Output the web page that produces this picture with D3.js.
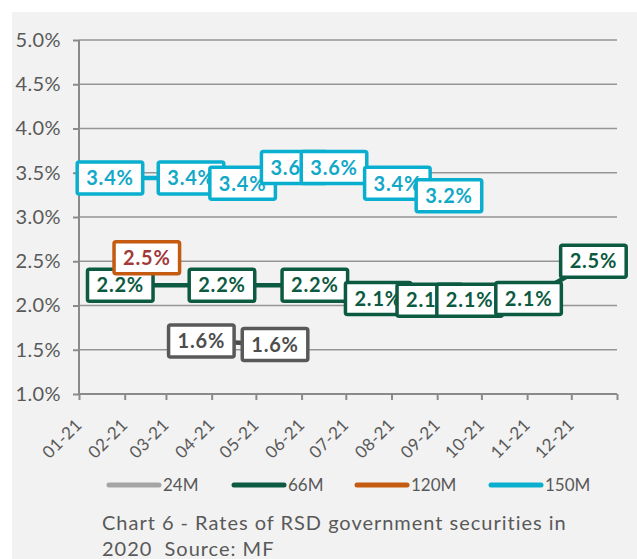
<!DOCTYPE html>
<html>
<head>
<meta charset="utf-8">
<script src="https://cdn.jsdelivr.net/npm/d3@7"></script>
<style>
  html, body { margin: 0; padding: 0; background: #ffffff; }
  svg { display: block; }
</style>
</head>
<body>
<svg id="chart" width="637" height="559"></svg>
<script>
// ---------- data ----------
const seriesNames = ["24M", "66M", "120M", "150M"];
const dates24 = ["2021-03-25", "2021-05-14"];
const values24 = [1.60, 1.56];
const dates66 = ["2021-01-29", "2021-04-08", "2021-06-10", "2021-07-23", "2021-08-27", "2021-09-23", "2021-11-02", "2021-12-16"];
const values66 = [2.23, 2.23, 2.23, 2.08, 2.06, 2.06, 2.08, 2.50];
const dates120 = ["2021-02-16"];
const values120 = [2.54];
const dates150 = ["2021-01-22", "2021-03-18", "2021-04-22", "2021-05-27", "2021-06-23", "2021-08-05", "2021-09-09"];
const values150 = [3.44, 3.44, 3.38, 3.56, 3.56, 3.38, 3.24];
const yTicks = [1.0, 1.5, 2.0, 2.5, 3.0, 3.5, 4.0, 4.5, 5.0];
const xStart = "2021-01-01";
const xEnd = "2022-01-01";
const captionLines = ["Chart 6 - Rates of RSD government securities in", "2020  Source: MF"];

// ---------- styles ----------
const styles = {
  "24M":  { line: "#4a4a4a", legend: "#a5a5a5", border: "#595959", text: "#4d4d4d" },
  "66M":  { line: "#0b5a41", legend: "#0b5a41", border: "#0b5a41", text: "#0b5a41" },
  "120M": { line: "#c55a11", legend: "#c55a11", border: "#c55a11", text: "#a13a39" },
  "150M": { line: "#0aafcf", legend: "#0aafcf", border: "#0aafcf", text: "#12a8c8" }
};
const FONT = "Lato, 'DejaVu Sans', sans-serif";

const parse = d3.utcParse("%Y-%m-%d");
const series = [
  { name: "24M", points: dates24.map((d, i) => ({ date: parse(d), value: values24[i] })) },
  { name: "66M", points: dates66.map((d, i) => ({ date: parse(d), value: values66[i] })) },
  { name: "120M", points: dates120.map((d, i) => ({ date: parse(d), value: values120[i] })) },
  { name: "150M", points: dates150.map((d, i) => ({ date: parse(d), value: values150[i] })) }
];

const svg = d3.select("#chart");
svg.append("rect").attr("x", 12).attr("y", 12).attr("width", 625).attr("height", 547).attr("fill", "#f2f2f2");

const plot = { left: 79, right: 617, top: 40, bottom: 394 };
const x = d3.scaleUtc().domain([parse(xStart), parse(xEnd)]).range([plot.left, plot.right]);
const y = d3.scaleLinear().domain([1, 5]).range([plot.bottom, plot.top]);

// gridlines
svg.append("g").selectAll("line").data(yTicks.filter(t => t > 1)).join("line")
  .attr("x1", plot.left).attr("x2", plot.right)
  .attr("y1", d => y(d)).attr("y2", d => y(d))
  .attr("stroke", "#959595").attr("stroke-width", 1.6);

// y axis
const yAxis = d3.axisLeft(y).tickValues(yTicks).tickFormat(d => d3.format(".1f")(d) + "%").tickSize(6).tickPadding(12);
const gy = svg.append("g").attr("transform", `translate(${plot.left},0)`).call(yAxis);
gy.select(".domain").attr("stroke", "#8a8a8a").attr("stroke-width", 2).attr("d", `M0,${plot.top}V${plot.bottom}`);
gy.selectAll(".tick line").attr("stroke", "#8a8a8a").attr("stroke-width", 2);
gy.selectAll(".tick text").attr("fill", "#595959").style("font-family", FONT).style("font-size", "20px")
  .style("letter-spacing", "0.4px");

// x axis
const months = d3.utcMonth.range(parse(xStart), d3.utcDay.offset(parse(xEnd), 1));
const xAxis = d3.axisBottom(x).tickValues(months).tickSize(6).tickFormat("");
const gx = svg.append("g").attr("transform", `translate(0,${plot.bottom})`).call(xAxis);
gx.select(".domain").attr("stroke", "#8a8a8a").attr("stroke-width", 2).attr("d", `M${plot.left},0H${plot.right}`);
gx.selectAll(".tick line").attr("stroke", "#8a8a8a").attr("stroke-width", 2);

const fmtMonth = d3.utcFormat("%m-%y");
svg.append("g").selectAll("text").data(months.slice(0, 12)).join("text")
  .attr("transform", d => `translate(${x(d) + 4},${plot.bottom + 32}) rotate(-45)`)
  .attr("text-anchor", "end")
  .attr("fill", "#595959")
  .style("font-family", FONT).style("font-size", "17px").style("letter-spacing", "0.3px")
  .text(d => fmtMonth(d));

// lines
const lineGen = d3.line().x(d => x(d.date)).y(d => y(d.value));
svg.append("g").selectAll("path").data(series.filter(s => s.points.length > 1)).join("path")
  .attr("d", s => lineGen(s.points))
  .attr("fill", "none")
  .attr("stroke", s => styles[s.name].line)
  .attr("stroke-width", 4.5);

// data labels
const fmtVal = v => d3.format(".1f")(v) + "%";
series.forEach(s => {
  const st = styles[s.name];
  s.points.forEach(p => {
    const g = svg.append("g").attr("transform", `translate(${x(p.date)},${y(p.value)})`);
    const rect = g.append("rect");
    const t = g.append("text")
      .attr("text-anchor", "middle").attr("dy", "0.36em")
      .attr("fill", st.text)
      .style("font-family", FONT).style("font-weight", 700).style("font-size", "20px")
      .style("letter-spacing", "0.8px")
      .text(fmtVal(p.value));
    const w = t.node().getComputedTextLength() + 18;
    const h = 32;
    rect.attr("x", -w / 2).attr("y", -h / 2).attr("width", w).attr("height", h)
      .attr("rx", 2).attr("fill", "#ffffff")
      .attr("stroke", st.border).attr("stroke-width", 3.5);
  });
});

// legend
const legendItems = [
  { name: "24M", x: 107 }, { name: "66M", x: 232 }, { name: "120M", x: 355 }, { name: "150M", x: 489 }
];
const lg = svg.append("g");
legendItems.forEach(it => {
  lg.append("line").attr("x1", it.x + 2).attr("x2", it.x + 52).attr("y1", 485).attr("y2", 485)
    .attr("stroke", styles[it.name].legend).attr("stroke-width", 5).attr("stroke-linecap", "round");
  lg.append("text").attr("x", it.x + 56).attr("y", 485).attr("dy", "0.36em")
    .attr("fill", "#595959").style("font-family", FONT).style("font-size", "17px").text(it.name);
});

// caption (fit first line to the reference width)
const cap = svg.append("g");
const capTexts = captionLines.map((line, i) =>
  cap.append("text").attr("x", 102).attr("y", 530 + i * 26)
    .attr("fill", "#595959").style("font-family", FONT).style("font-size", "20px")
    .style("white-space", "pre").text(line));
const baseW = capTexts[0].node().getComputedTextLength();
const spacing = Math.max(0, (465 - baseW) / captionLines[0].length);
capTexts.forEach(t => t.style("letter-spacing", spacing + "px"));
</script>
</body>
</html>
